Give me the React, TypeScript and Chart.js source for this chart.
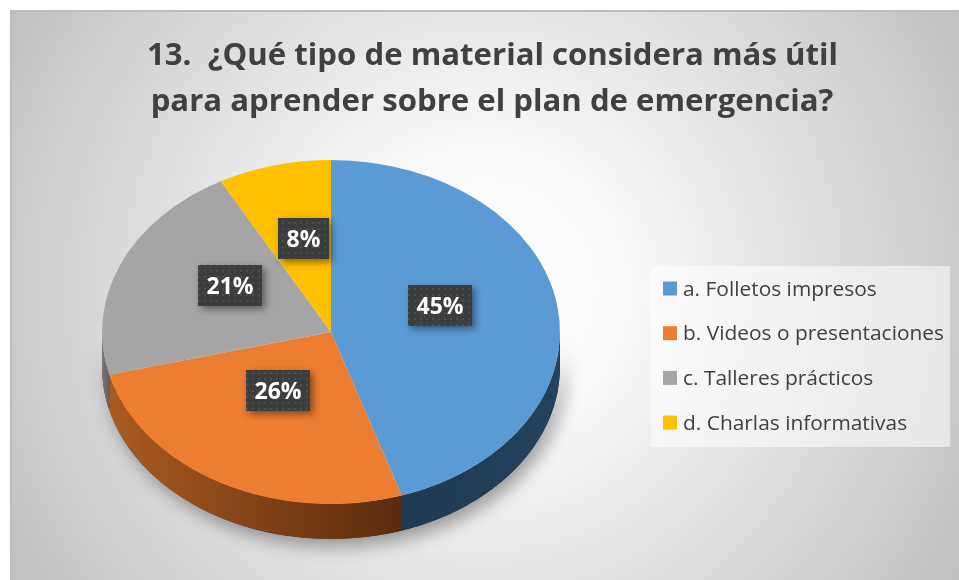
import React, { useEffect, useRef } from 'react';
import { Chart, registerables } from 'chart.js';

Chart.register(...registerables);

// ---- data ----
const TITLE_LINES = [
  '13.  ¿Qué tipo de material considera más útil',
  'para aprender sobre el plan de emergencia?',
];
const CATEGORIES = [
  'a. Folletos impresos',
  'b. Videos o presentaciones',
  'c. Talleres prácticos',
  'd. Charlas informativas',
];
const PERCENTS = [45, 26, 21, 8];
const COLORS = ['#5b9bd5', '#ed7d31', '#a5a5a5', '#ffc000'];
const SIDE_COLORS = [
  ['#1f3a52', '#24425d'],
  ['#ab5b20', '#5a2b0c'],
  ['#7a7a7a', '#5e5e5e'],
  ['#a07800', '#806000'],
];

// ---- layout / style ----
const W = 949;
const H = 570;
const TILT = 0.751;
const DEPTH = 35;
const APEX_SHIFT = 14;
const LABEL_FRAC = 0.48;
const TEXT_COLOR = '#404040';

const bgPlugin = {
  id: 'bg3d',
  beforeDraw(chart: any) {
    const ctx = chart.ctx as CanvasRenderingContext2D;
    ctx.save();
    const g = ctx.createRadialGradient(474, 280, 0, 474, 280, 555);
    g.addColorStop(0, '#ffffff');
    g.addColorStop(0.25, '#fafafa');
    g.addColorStop(1, '#c0c0c0');
    ctx.fillStyle = g;
    ctx.fillRect(0, 0, W, H);
    ctx.strokeStyle = '#bcbcbc';
    ctx.lineWidth = 2;
    ctx.beginPath();
    ctx.moveTo(1, H);
    ctx.lineTo(1, 1);
    ctx.lineTo(W, 1);
    ctx.stroke();
    ctx.restore();
  },
};

function makeDotPattern(ctx: CanvasRenderingContext2D) {
  const c = document.createElement('canvas');
  c.width = 6;
  c.height = 6;
  const p = c.getContext('2d')!;
  p.fillStyle = '#3d3d3d';
  p.fillRect(0, 0, 6, 6);
  p.fillStyle = '#4d4d4d';
  p.fillRect(2, 2, 2, 2);
  return ctx.createPattern(c, 'repeat');
}

const piePlugin = {
  id: 'pie3d',
  beforeDatasetsDraw(chart: any) {
    const ctx = chart.ctx as CanvasRenderingContext2D;
    const arcs = chart.getDatasetMeta(0).data as any[];
    ctx.save();
    if (!arcs.length) return;
    const cx = arcs[0].x;
    const cy = arcs[0].y;
    const r = arcs[0].outerRadius;
    ctx.translate(0, cy);
    ctx.scale(1, TILT);
    ctx.translate(0, -cy);
    const d = DEPTH / TILT;

    // soft shadow under the pie
    ctx.save();
    ctx.shadowColor = 'rgba(0,0,0,0.38)';
    ctx.shadowBlur = 18;
    ctx.shadowOffsetX = 5;
    ctx.shadowOffsetY = 7;
    ctx.beginPath();
    ctx.arc(cx, cy, r, 0, Math.PI);
    ctx.arc(cx, cy + d, r, Math.PI, 0, true);
    ctx.closePath();
    ctx.fillStyle = '#333';
    ctx.fill();
    ctx.restore();

    // side walls
    arcs.forEach((arc: any, i: number) => {
      for (const off of [0, 2 * Math.PI, -2 * Math.PI]) {
        const b1 = Math.max(arc.startAngle + off, 0);
        const b2 = Math.min(arc.endAngle + off, Math.PI);
        if (b2 <= b1) continue;
        const xa = cx + Math.cos(b1) * r;
        const xb = cx + Math.cos(b2) * r;
        const left = Math.min(xa, xb, b1 < Math.PI && b2 >= Math.PI ? cx - r : Infinity);
        const right = Math.max(xa, xb, b1 <= 0 ? cx + r : -Infinity);
        const g = ctx.createLinearGradient(left, 0, right, 0);
        g.addColorStop(0, SIDE_COLORS[i][0]);
        g.addColorStop(1, SIDE_COLORS[i][1]);
        ctx.beginPath();
        ctx.arc(cx, cy, r, b1, b2);
        ctx.arc(cx, cy + d, r, b2, b1, true);
        ctx.closePath();
        ctx.fillStyle = g;
        ctx.fill();
      }
    });
  },
  afterDatasetsDraw(chart: any) {
    const ctx = chart.ctx as CanvasRenderingContext2D;
    ctx.restore();
    const arcs = chart.getDatasetMeta(0).data as any[];
    const values = chart.data.datasets[0].data as number[];
    const total = values.reduce((a, b) => a + b, 0);
    const pattern = makeDotPattern(ctx);
    ctx.save();
    ctx.font = 'bold 23px "Open Sans"';
    arcs.forEach((arc: any, i: number) => {
      const mid = (arc.startAngle + arc.endAngle) / 2;
      const lx = arc.x + Math.cos(mid) * arc.outerRadius * LABEL_FRAC;
      const ly = arc.y - APEX_SHIFT + Math.sin(mid) * arc.outerRadius * LABEL_FRAC * TILT;
      const text = Math.round((values[i] / total) * 100) + '%';
      const tw = ctx.measureText(text).width;
      const bw = Math.round(tw + 17);
      const bh = 41;
      const bx = Math.round(lx - bw / 2);
      const by = Math.round(ly - bh / 2);
      ctx.save();
      ctx.shadowColor = 'rgba(0,0,0,0.45)';
      ctx.shadowBlur = 7;
      ctx.shadowOffsetX = 3;
      ctx.shadowOffsetY = 3;
      ctx.fillStyle = '#3d3d3d';
      ctx.fillRect(bx, by, bw, bh);
      ctx.restore();
      if (pattern) {
        ctx.fillStyle = pattern;
        ctx.fillRect(bx, by, bw, bh);
      }
      ctx.fillStyle = '#ffffff';
      ctx.textAlign = 'center';
      ctx.textBaseline = 'alphabetic';
      ctx.fillText(text, bx + bw / 2, by + bh / 2 + 8.5);
    });
    ctx.restore();
  },
};

const overlayPlugin = {
  id: 'overlay',
  afterDraw(chart: any) {
    const ctx = chart.ctx as CanvasRenderingContext2D;
    ctx.save();
    // title
    ctx.fillStyle = TEXT_COLOR;
    ctx.textAlign = 'center';
    ctx.textBaseline = 'alphabetic';
    ctx.font = 'bold 31px "Open Sans"';
    const sx = 691 / ctx.measureText(TITLE_LINES[0]).width;
    const titleCenters = [482.5, 482];
    const titleBase = [55, 101];
    TITLE_LINES.forEach((line, i) => {
      ctx.save();
      ctx.translate(titleCenters[i], titleBase[i]);
      ctx.scale(sx, 1);
      ctx.fillText(line, 0, 0);
      ctx.restore();
    });

    // legend
    const labels = chart.data.labels as string[];
    const colors = chart.data.datasets[0].backgroundColor as string[];
    ctx.fillStyle = 'rgba(255,255,255,0.55)';
    ctx.fillRect(641, 256, 299, 181);
    ctx.font = '20px "Open Sans"';
    const lsx = 261 / ctx.measureText(labels[1]).width;
    ctx.textAlign = 'left';
    labels.forEach((lab, i) => {
      const base = 285.5 + i * 44.7;
      ctx.fillStyle = colors[i];
      ctx.fillRect(653, base - 14, 14, 14);
      ctx.fillStyle = TEXT_COLOR;
      ctx.save();
      ctx.translate(673, base);
      ctx.scale(lsx, 1);
      ctx.fillText(lab, 0, 0);
      ctx.restore();
    });
    ctx.restore();
  },
};

export default function App() {
  const ref = useRef<HTMLCanvasElement | null>(null);
  useEffect(() => {
    if (!ref.current) return;
    const chart = new Chart(ref.current, {
      type: 'pie',
      data: {
        labels: CATEGORIES,
        datasets: [
          {
            data: PERCENTS,
            backgroundColor: COLORS,
            borderWidth: 0,
            clip: false as any,
          },
        ],
      },
      options: {
        responsive: false,
        animation: false,
        events: [],
        layout: { padding: { left: 92, right: 399, top: 93, bottom: 19 } },
        plugins: {
          legend: { display: false },
          title: { display: false },
          tooltip: { enabled: false },
        },
      },
      plugins: [bgPlugin, piePlugin, overlayPlugin],
    });
    return () => chart.destroy();
  }, []);
  return (
    <div style={{ position: 'absolute', left: 10, top: 10, width: W, height: H }}>
      <canvas ref={ref} width={W} height={H} style={{ display: 'block' }} />
    </div>
  );
}
